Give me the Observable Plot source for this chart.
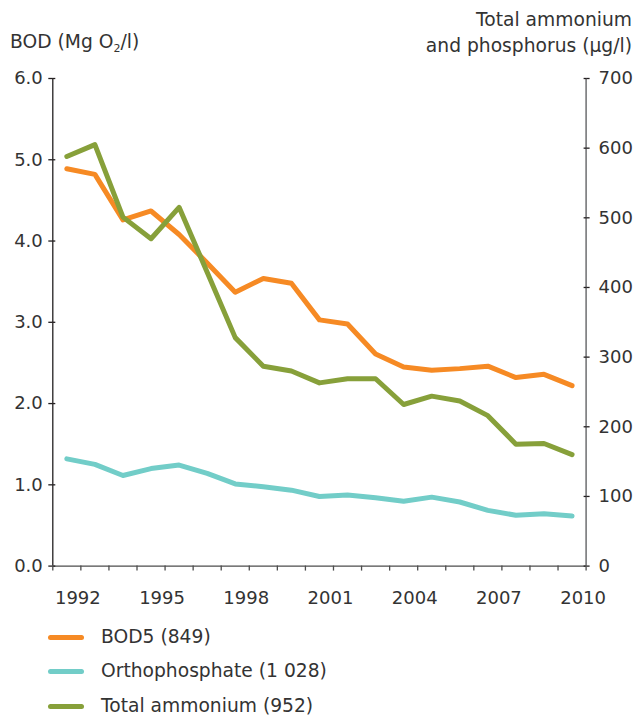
<!DOCTYPE html>
<html>
<head>
<meta charset="utf-8">
<script src="https://cdn.jsdelivr.net/npm/d3@7"></script>
<script src="https://cdn.jsdelivr.net/npm/@observablehq/plot@0.6"></script>
<style>
  html, body { margin: 0; padding: 0; background: #fff; }
  body { width: 636px; height: 717px; overflow: hidden; font-family: "DejaVu Sans", Verdana, sans-serif; color: #333; }
  #wrap { position: relative; width: 636px; }
  .ttl { position: absolute; font-size: 18.7px; line-height: 1; white-space: nowrap; }
  .ttl sub { font-size: 11px; vertical-align: -4px; line-height: 0; }
  #legend { font-size: 18.7px; }
  .row { height: 34.5px; display: flex; align-items: center; line-height: 1; }
  .sw { width: 36px; height: 5px; border-radius: 3px; margin-left: 48px; margin-right: 17px; }
</style>
</head>
<body>
<div id="wrap">
  <div class="ttl" style="left:10px; top:33px;">BOD (Mg O<sub>2</sub>/l)</div>
  <div class="ttl" style="right:4px; top:11px;">Total ammonium</div>
  <div class="ttl" style="right:4px; top:37px;">and phosphorus (µg/l)</div>
  <div id="chart"></div>
  <div id="legend"></div>
</div>
<script>
// ---- data ----
const years = [1992, 1993, 1994, 1995, 1996, 1997, 1998, 1999, 2000, 2001,
               2002, 2003, 2004, 2005, 2006, 2007, 2008, 2009, 2010];
const bod5 = [4.89, 4.82, 4.26, 4.37, 4.08, 3.73, 3.37, 3.54, 3.48, 3.03,
              2.98, 2.61, 2.45, 2.41, 2.43, 2.46, 2.32, 2.36, 2.22];
const orthophosphate = [154, 146, 130, 140, 145, 133, 118, 114, 109, 100,
                        102, 98, 93, 99, 92, 80, 73, 75, 72];
const totalAmmonium = [588, 605, 501, 470, 515, 422, 328, 287, 280, 263,
                       269, 269, 232, 244, 237, 216, 175, 176, 160];
const seriesNames = ["BOD5 (849)", "Orthophosphate (1 028)", "Total ammonium (952)"];
const seriesColors = ["#F68A24", "#72CDC8", "#87A03A"];
const leftTicks = [0, 1, 2, 3, 4, 5, 6];
const rightTicks = [0, 100, 200, 300, 400, 500, 600, 700];
const xBoundaries = d3.range(1991, 2011);
const xLabels = [1992, 1995, 1998, 2001, 2004, 2007, 2010];

// ---- build ----
const leftMax = 6, rightMax = 700;
const toLeft = v => v * leftMax / rightMax;
const table = years.map((y, i) => ({
  year: y, bod: bod5[i], ortho: orthophosphate[i], amm: totalAmmonium[i]
}));
const xDomain = [xBoundaries[0], xBoundaries[xBoundaries.length - 1]];
const px = d => d.year - 0.5;
const lineOpts = {strokeWidth: 5, strokeLinejoin: "round", strokeLinecap: "round"};

const chart = Plot.plot({
  width: 636,
  height: 620,
  marginTop: 78,
  marginBottom: 54.4,
  marginLeft: 52.3,
  marginRight: 50.4,
  style: {fontFamily: "'DejaVu Sans', Verdana, sans-serif", fontSize: "18px", color: "#333", background: "#fff", overflow: "visible"},
  x: {domain: xDomain},
  y: {domain: [0, leftMax]},
  marks: [
    // axis lines
    Plot.ruleX([xDomain[0]], {stroke: "#231f20", strokeWidth: 1.3}),
    Plot.ruleX([xDomain[1]], {stroke: "#6d6e71", strokeWidth: 1.5}),
    Plot.ruleY([0], {stroke: "#4d4d4d", strokeWidth: 1.3}),
    // left axis
    Plot.axisY(leftTicks, {anchor: "left", tickSize: 4, tickPadding: 6, tickFormat: d => d.toFixed(1), label: null, stroke: "#231f20", strokeWidth: 1.3}),
    Plot.axisY(leftTicks, {anchor: "left", tickSize: -3, tickFormat: () => "", label: null, stroke: "#231f20", strokeWidth: 1.3}),
    // right axis
    Plot.axisY(rightTicks.map(toLeft), {anchor: "right", tickSize: 3, tickPadding: 9.5, tickFormat: d => String(Math.round(d * rightMax / leftMax)), label: null, stroke: "#231f20", strokeWidth: 1.3}),
    Plot.axisY(rightTicks.map(toLeft), {anchor: "right", tickSize: -3, tickFormat: () => "", label: null, stroke: "#231f20", strokeWidth: 1.3}),
    // bottom axis
    Plot.axisX(xBoundaries, {anchor: "bottom", tickSize: 5, tickFormat: () => "", label: null, stroke: "#4d4d4d", strokeWidth: 1.3}),
    Plot.axisX(xLabels, {anchor: "bottom", tickSize: 0, tickPadding: 25.5, dx: -3, tickFormat: d => String(d), label: null}),
    // series
    Plot.lineY(table, {x: px, y: d => toLeft(d.ortho), stroke: seriesColors[1], ...lineOpts}),
    Plot.lineY(table, {x: px, y: "bod", stroke: seriesColors[0], ...lineOpts}),
    Plot.lineY(table, {x: px, y: d => toLeft(d.amm), stroke: seriesColors[2], ...lineOpts})
  ]
});
document.getElementById("chart").appendChild(chart);

const legend = document.getElementById("legend");
seriesNames.forEach((name, i) => {
  const row = document.createElement("div");
  row.className = "row";
  const sw = document.createElement("div");
  sw.className = "sw";
  sw.style.background = seriesColors[i];
  const t = document.createElement("span");
  t.textContent = name;
  row.appendChild(sw);
  row.appendChild(t);
  legend.appendChild(row);
});
</script>
</body>
</html>
